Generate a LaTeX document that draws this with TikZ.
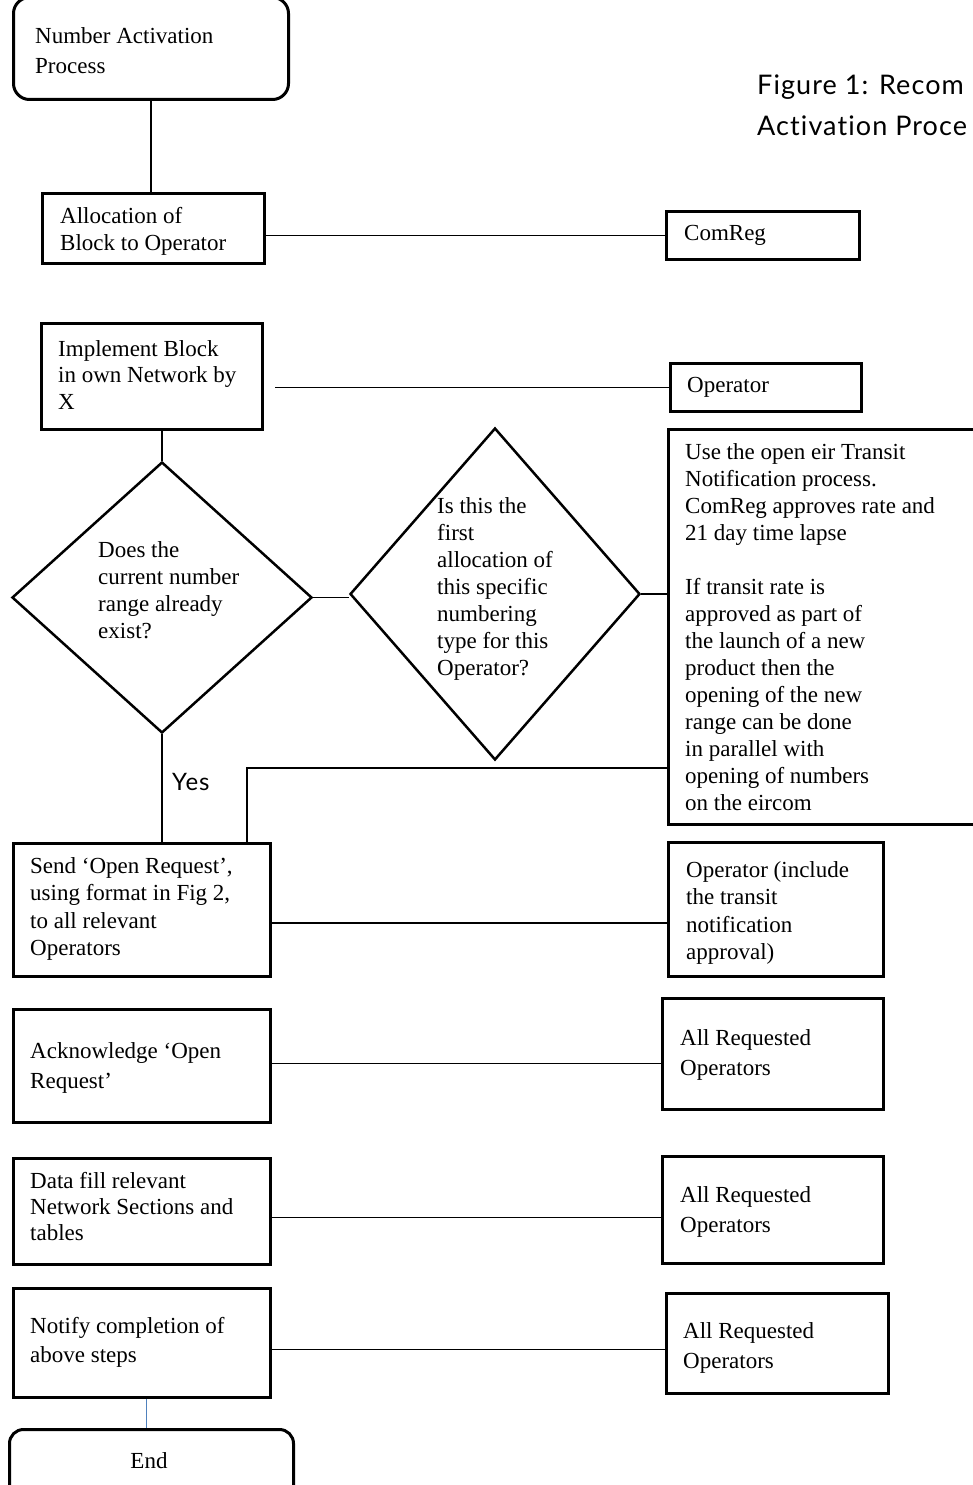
\documentclass[tikz,border=0pt]{standalone}
\usepackage{fontspec}
\setmainfont{Liberation Serif}
\newfontfamily\capfont[LetterSpace=4,Ligatures={NoCommon,NoRare}]{Lato}
\usetikzlibrary{shapes.geometric}
\definecolor{blueline}{RGB}{79,129,189}
\begin{document}
\begin{tikzpicture}[x=1pt,y=-1pt,
  box/.style={draw, line width=3pt, inner sep=0pt, anchor=north west},
  link/.style={line width=1.4pt},
  txt/.style={anchor=north west, inner sep=0pt, align=left, font=\fontsize{23}{27}\selectfont},
  txtw/.style={txt, font=\fontsize{23}{30}\selectfont},
  dia/.style={draw, diamond, line width=2.5pt, inner sep=0pt}]
\useasboundingbox (0,0) rectangle (973,1485);
\clip (0,0) rectangle (973,1485);

% caption
\node[anchor=north west, inner sep=0pt, align=left, font={\capfont\fontsize{27}{41}\selectfont}] (cap) at (757,75) {Figure 1: Recom\\Activation Proce};

% boxes
\node[box, rounded corners=16pt, minimum width=275pt, minimum height=102pt] (start) at (12,-4) {};
\node[txt, font=\fontsize{23}{30}\selectfont] (tstart) at (35,27) {Number Activation\\Process};

\node[box, minimum width=222pt, minimum height=70pt] (alloc) at (41,192) {};
\node[txt] (talloc) at (60,207) {Allocation of\\Block to Operator};

\node[box, minimum width=193pt, minimum height=48pt] (comreg) at (665,210) {};
\node[txt] (tcomreg) at (684,225) {ComReg};

\node[box, minimum width=221pt, minimum height=106pt] (impl) at (40,322) {};
\node[txt, font=\fontsize{23}{26.5}\selectfont] (timpl) at (58,340) {Implement Block\\in own Network by\\X};

\node[box, minimum width=191pt, minimum height=48pt] (oper) at (669,362) {};
\node[txt] (toper) at (687,377) {Operator};

\node[dia, minimum width=300pt, minimum height=271pt] (d1) at (162,597.5) {};
\node[txt] (td1) at (98,541) {Does the\\current number\\range already\\exist?};

\node[dia, minimum width=290pt, minimum height=332pt] (d2) at (495,594) {};
\node[txt] (td2) at (437,497) {Is this the\\first\\allocation of\\this specific\\numbering\\type for this\\Operator?};

\node[box, minimum width=320pt, minimum height=395pt] (big) at (667,428) {};
\node[txt] (tbig) at (685,443) {Use the open eir Transit\\Notification process.\\ComReg approves rate and\\21 day time lapse\\[27pt]If transit rate is\\approved as part of\\the launch of a new\\product then the\\opening of the new\\range can be done\\in parallel with\\opening of numbers\\on the eircom};

\node[box, minimum width=257pt, minimum height=133pt] (send) at (12,842) {};
\node[txt, font=\fontsize{23}{27.5}\selectfont] (tsend) at (30,857) {Send ‘Open Request’,\\using format in Fig 2,\\to all relevant\\Operators};

\node[box, minimum width=215pt, minimum height=134pt] (opinc) at (667,841) {};
\node[txt, font=\fontsize{23}{27.5}\selectfont] (topinc) at (686,861) {Operator (include\\the transit\\notification\\approval)};

\node[box, minimum width=257pt, minimum height=113pt] (ack) at (12,1008) {};
\node[txtw] (tack) at (30,1042) {Acknowledge ‘Open\\Request’};

\node[box, minimum width=221pt, minimum height=111pt] (ar1) at (661,997) {};
\node[txtw] (tar1) at (680,1029) {All Requested\\Operators};

\node[box, minimum width=257pt, minimum height=106pt] (data) at (12,1157) {};
\node[txt, font=\fontsize{23}{26}\selectfont] (tdata) at (30,1172) {Data fill relevant\\Network Sections and\\tables};

\node[box, minimum width=221pt, minimum height=107pt] (ar2) at (661,1155) {};
\node[txtw] (tar2) at (680,1186) {All Requested\\Operators};

\node[box, minimum width=257pt, minimum height=109pt] (notify) at (12,1287) {};
\node[txt, font=\fontsize{23}{29}\selectfont] (tnotify) at (30,1317) {Notify completion of\\above steps};

\node[box, minimum width=222pt, minimum height=100pt] (ar3) at (665,1292) {};
\node[txtw] (tar3) at (683,1322) {All Requested\\Operators};

\node[box, rounded corners=14pt, minimum width=284pt, minimum height=80pt] (end) at (8,1428) {};
\node[anchor=base, inner sep=0pt, font=\fontsize{23}{27}\selectfont] (tend) at (149,1468) {End};

\node[anchor=base west, inner sep=0pt, font={\capfont\fontsize{24}{28}\selectfont}] (yes) at (172,790) {Yes};

% connectors
\draw[link] (start.south) -- (start.south |- alloc.north);
\draw[link] (comreg.west -| alloc.east) -- (comreg.west);
\draw[link, shorten <=11pt] (oper.west -| impl.east) -- (oper.west);
\draw[link] (d1.north |- impl.south) -- (d1.north);
\draw[link] (d1.east) -- (d1.east -| d2.west);
\draw[link] (d2.east) -- (d2.east -| big.west);
\draw[link] (d1.south) -- (d1.south |- send.north);
\coordinate (jn) at (247,768);
\draw[link] (jn -| big.west) -- (jn) -- (jn |- send.north);
\draw[link] ([yshift=-13pt]send.east) -- ([yshift=-13pt]send.east -| opinc.west);
\draw[link] ([yshift=2.5pt]ack.east) -- ([yshift=2.5pt]ack.east -| ar1.west);
\draw[link] ([yshift=-6pt]data.east) -- ([yshift=-6pt]data.east -| ar2.west);
\draw[link] ([yshift=-6.5pt]notify.east) -- ([yshift=-6.5pt]notify.east -| ar3.west);
\draw[line width=1.2pt, blueline] ([xshift=4.5pt]notify.south) -- ([xshift=4.5pt]notify.south |- end.north);
\end{tikzpicture}
\end{document}
